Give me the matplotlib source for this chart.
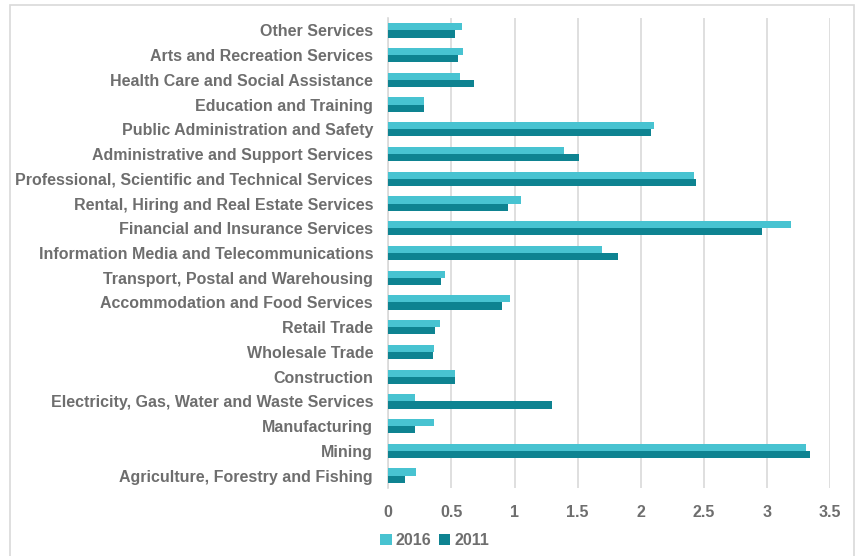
import matplotlib.pyplot as plt
import numpy as np
from matplotlib.patches import Rectangle

categories = [
    "Agriculture, Forestry and Fishing",
    "Mining",
    "Manufacturing",
    "Electricity, Gas, Water and Waste Services",
    "Construction",
    "Wholesale Trade",
    "Retail Trade",
    "Accommodation and Food Services",
    "Transport, Postal and Warehousing",
    "Information Media and Telecommunications",
    "Financial and Insurance Services",
    "Rental, Hiring and Real Estate Services",
    "Professional, Scientific and Technical Services",
    "Administrative and Support Services",
    "Public Administration and Safety",
    "Education and Training",
    "Health Care and Social Assistance",
    "Arts and Recreation Services",
    "Other Services",
]
values_2016 = [0.22, 3.31, 0.36, 0.21, 0.53, 0.36, 0.41, 0.96, 0.45, 1.69,
               3.19, 1.05, 2.42, 1.39, 2.10, 0.28, 0.57, 0.59, 0.58]
values_2011 = [0.135, 3.34, 0.21, 1.30, 0.53, 0.35, 0.37, 0.90, 0.42, 1.82,
               2.96, 0.945, 2.44, 1.51, 2.08, 0.28, 0.68, 0.55, 0.53]
xticks = [0, 0.5, 1, 1.5, 2, 2.5, 3, 3.5]

c2016 = "#48C3D1"
c2011 = "#0E8391"
txt = "#6E6E6E"

plt.rcParams["font.family"] = ["Liberation Sans", "DejaVu Sans"]

fig = plt.figure(figsize=(8.56, 5.56), dpi=100)
W, H = 856, 556
ax = fig.add_axes([388.3 / W, 1 - 488 / H, (830.3 - 388.3) / W, (488 - 18) / H])

y = np.arange(len(categories))
h = 0.29
ax.barh(y + h / 2, values_2016, height=h, color=c2016, label="2016", zorder=3)
ax.barh(y - h / 2, values_2011, height=h, color=c2011, label="2011", zorder=3)

ax.set_xlim(0, 3.5)
ax.set_ylim(-0.5, len(categories) - 0.5)
ax.set_xticks(xticks)
ax.set_xticklabels([f"{t:g}" for t in xticks])
ax.set_yticks(y)
ax.set_yticklabels(categories)
ax.grid(axis="x", color="#D9D9D9", linewidth=1.2, zorder=0)
for s in ["top", "right", "bottom"]:
    ax.spines[s].set_visible(False)
ax.spines["left"].set_color("#D9D9D9")
ax.spines["left"].set_linewidth(1.2)
ax.tick_params(length=0, labelcolor=txt, labelsize=11.5)
ax.tick_params(axis="y", pad=11)
ax.tick_params(axis="x", pad=12)
for lab in ax.get_xticklabels() + ax.get_yticklabels():
    lab.set_fontweight("bold")

leg = fig.legend(loc="lower left", bbox_to_anchor=(366 / W, -0.012), ncol=2,
                 frameon=False, handlelength=0.7, handleheight=0.7,
                 handletextpad=0.25, columnspacing=0.5,
                 prop={"weight": "bold", "size": 11.5})
for t in leg.get_texts():
    t.set_color(txt)

fig.patches.append(Rectangle((10 / W, -0.1), (854 - 10) / W, 1.1 - 5 / H,
                             transform=fig.transFigure, fill=False,
                             edgecolor="#D9D9D9", linewidth=1.2))

fig.savefig("out.png", dpi=100)
